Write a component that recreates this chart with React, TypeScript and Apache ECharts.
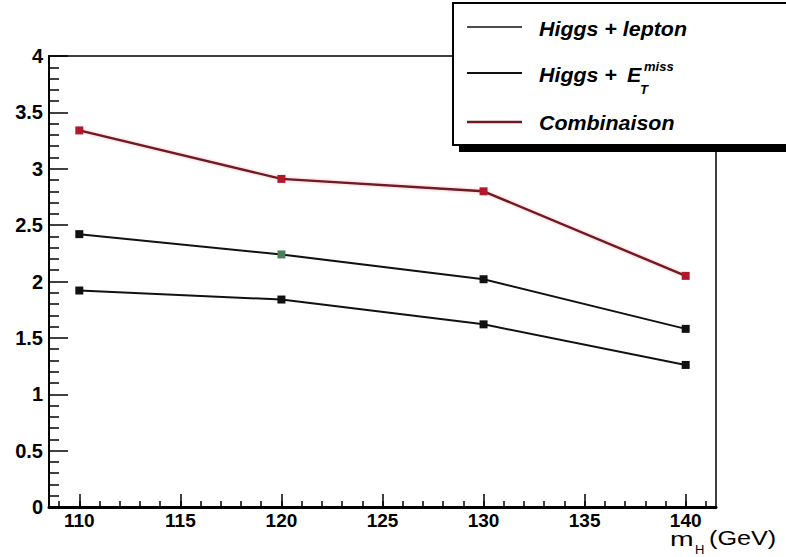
import React, { useEffect, useRef } from "react";
import * as echarts from "echarts";

const xValues = [110, 120, 130, 140];
const higgsLepton = [2.42, 2.24, 2.02, 1.58];
const higgsMet = [1.92, 1.84, 1.62, 1.26];
const combinaison = [3.34, 2.91, 2.8, 2.05];
const xMajorTicks = [110, 115, 120, 125, 130, 135, 140];
const xMinorTicks = [109, 110, 111, 112, 113, 114, 115, 116, 117, 118, 119, 120, 121, 122, 123, 124, 125, 126, 127, 128, 129, 130, 131, 132, 133, 134, 135, 136, 137, 138, 139, 140, 141];
const seriesNames = ["Higgs + lepton", "Higgs + E_T^miss", "Combinaison"];

const FONT = "Liberation Sans";
const leptonMarkerColors = ["#111111", "#4d7d5c", "#111111", "#111111"];

export default function App() {
  const ref = useRef<HTMLDivElement>(null);
  useEffect(() => {
    if (!ref.current) return;
    const chart = echarts.init(ref.current, null, { renderer: "svg" });
    const pts = (ys: number[]) => xValues.map((x, i) => [x, ys[i]]);
    const legFont = `italic bold 20px "${FONT}"`;
    const option: any = {
      animation: false,
      backgroundColor: "#ffffff",
      grid: {
        left: 49,
        right: 70,
        top: 56,
        bottom: 50,
        show: true,
        borderColor: "#000",
        borderWidth: 1.5,
        backgroundColor: "transparent",
      },
      xAxis: [
        {
          type: "value",
          min: 108.5,
          max: 141.5,
          position: "bottom",
          axisLine: { show: true, lineStyle: { color: "#000", width: 3 } },
          axisTick: {
            show: true,
            inside: true,
            length: 13,
            customValues: xMajorTicks,
            lineStyle: { color: "#000", width: 1.5 },
          },
          axisLabel: {
            show: true,
            customValues: xMajorTicks,
            color: "#000",
            fontFamily: FONT,
            fontWeight: "bold",
            fontSize: 19,
            margin: 4,
          },
          splitLine: { show: false },
        },
        {
          type: "value",
          min: 108.5,
          max: 141.5,
          position: "bottom",
          axisLine: { show: false },
          axisTick: {
            show: true,
            inside: true,
            length: 6,
            customValues: xMinorTicks,
            lineStyle: { color: "#000", width: 1.5 },
          },
          axisLabel: { show: false },
          splitLine: { show: false },
        },
      ],
      yAxis: {
        type: "value",
        min: 0,
        max: 4,
        interval: 0.5,
        axisLine: { show: true, lineStyle: { color: "#000", width: 2 } },
        axisTick: { show: true, inside: true, length: 19, lineStyle: { color: "#000", width: 1.5 } },
        minorTick: { show: true, splitNumber: 5, length: 10, lineStyle: { color: "#000", width: 1.5 } },
        axisLabel: {
          color: "#000",
          fontFamily: FONT,
          fontWeight: "bold",
          fontSize: 20,
          margin: 6,
        },
        splitLine: { show: false },
      },
      series: [
        {
          name: seriesNames[0],
          type: "line",
          xAxisIndex: 0,
          data: pts(higgsLepton).map((p, i) => ({ value: p, itemStyle: { color: leptonMarkerColors[i] } })),
          symbol: "rect",
          symbolSize: 8,
          lineStyle: { color: "#111", width: 2 },
          itemStyle: { color: "#111" },
          z: 3,
        },
        {
          name: seriesNames[1],
          type: "line",
          xAxisIndex: 0,
          data: pts(higgsMet),
          symbol: "rect",
          symbolSize: 8,
          lineStyle: { color: "#111", width: 2 },
          itemStyle: { color: "#111" },
          z: 3,
        },
        {
          name: seriesNames[2],
          type: "line",
          xAxisIndex: 0,
          data: pts(combinaison),
          symbol: "rect",
          symbolSize: 8,
          lineStyle: { color: "#6e1a24", width: 2.4, shadowColor: "rgba(230,40,60,0.35)", shadowBlur: 3 },
          itemStyle: { color: "#b0182c" },
          z: 3,
        },
      ],
      graphic: [
        // legend shadow + box
        { type: "rect", z: 100, shape: { x: 459, y: 10, width: 340, height: 142 }, style: { fill: "#000" } },
        { type: "rect", z: 101, shape: { x: 453, y: 3, width: 340, height: 142 }, style: { fill: "#fff", stroke: "#000", lineWidth: 2 } },
        { type: "line", z: 102, shape: { x1: 467, y1: 27, x2: 522, y2: 27 }, style: { stroke: "#111", lineWidth: 1.5 } },
        { type: "line", z: 102, shape: { x1: 467, y1: 73, x2: 522, y2: 73 }, style: { stroke: "#111", lineWidth: 2 } },
        { type: "line", z: 102, shape: { x1: 467, y1: 122, x2: 522, y2: 122 }, style: { stroke: "#6e1a24", lineWidth: 2.5 } },
        {
          type: "text", z: 102, x: 539, y: 29, scaleX: 1.07,
          style: { text: "Higgs + lepton", fill: "#000", font: legFont, verticalAlign: "middle" },
        },
        {
          type: "text", z: 102, x: 539, y: 75, scaleX: 1.07,
          style: { text: "Higgs +", fill: "#000", font: legFont, verticalAlign: "middle" },
        },
        {
          type: "text", z: 102, x: 627, y: 75, scaleX: 1.07,
          style: { text: "E", fill: "#000", font: legFont, verticalAlign: "middle" },
        },
        {
          type: "text", z: 102, x: 644, y: 66,
          style: { text: "miss", fill: "#000", font: `italic bold 13px "${FONT}"`, verticalAlign: "middle" },
        },
        {
          type: "text", z: 102, x: 640, y: 89,
          style: { text: "T", fill: "#000", font: `italic bold 13px "${FONT}"`, verticalAlign: "middle" },
        },
        {
          type: "text", z: 102, x: 539, y: 123, scaleX: 1.07,
          style: { text: seriesNames[2], fill: "#000", font: legFont, verticalAlign: "middle" },
        },
        // axis title
        {
          type: "text", z: 102, x: 670, y: 538, scaleX: 1.35,
          style: { text: "m", fill: "#000", font: `21px "${FONT}"`, verticalAlign: "middle" },
        },
        {
          type: "text", z: 102, x: 695, y: 549,
          style: { text: "H", fill: "#000", font: `13px "${FONT}"`, verticalAlign: "middle" },
        },
        {
          type: "text", z: 102, x: 709, y: 538, scaleX: 1.2,
          style: { text: "(GeV)", fill: "#000", font: `21px "${FONT}"`, verticalAlign: "middle" },
        },
      ],
    };
    chart.setOption(option);
    return () => chart.dispose();
  }, []);
  return <div ref={ref} style={{ width: 786, height: 557, position: "absolute", left: 0, top: 0 }} />;
}
